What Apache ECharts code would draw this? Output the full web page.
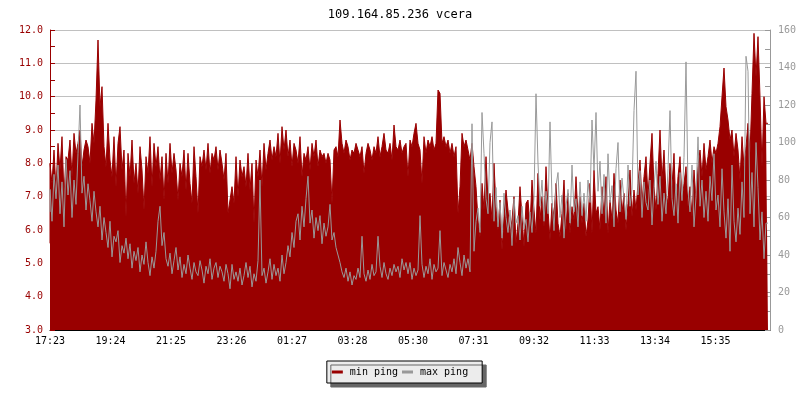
<!DOCTYPE html>
<html>
<head>
<meta charset="utf-8">
<title>109.164.85.236 vcera</title>
<script src="https://cdn.jsdelivr.net/npm/echarts@6/dist/echarts.min.js"></script>
<style>
    html, body { margin: 0; padding: 0; background: #fff; }
    #chart { width: 800px; height: 400px; }
</style>
</head>
<body>
<div id="chart"></div>
<script>
// time labels on the x axis (one every 121 minutes)
const xLabels = ['17:23','19:24','21:25','23:26','01:27','03:28','05:30','07:31','09:32','11:33','13:34','15:35']
const stepMinutes = 4

// min ping (left axis), one value per 4 minutes
const minPing = [
    5.6, 8.0, 7.4, 8.4, 7.2,  8.6, 7.8, 8.8, 7.0, 8.2,  8.1, 8.7, 7.6, 8.9, 8.3,  8.6, 9.0, 7.9, 8.4, 8.7,
    8.5, 8.0, 9.2, 8.6, 9.9,  11.7, 9.7, 10.3, 8.5, 7.9,  9.2, 8.1, 7.6, 8.8, 7.3,  8.6, 9.1, 7.8, 8.4, 6.4,
    8.3, 7.6, 8.7, 7.4, 8.0,  7.1, 8.5, 7.8, 6.6, 8.2,  7.7, 8.8, 7.3, 8.6, 7.9,  8.5, 7.5, 8.2, 6.9, 8.3,
    7.4, 8.6, 7.7, 8.3, 7.8,  6.9, 8.0, 7.6, 8.4, 7.2,  8.3, 7.4, 6.8, 8.5, 7.6,  6.5, 8.2, 7.9, 8.4, 7.8,
    8.6, 7.7, 8.3, 8.1, 8.5,  7.8, 8.4, 8.0, 7.5, 8.3,
    6.5, 6.9, 7.3, 6.8, 8.2,  7.0, 8.1, 7.6, 7.9, 7.3,  8.3, 7.2, 8.0, 6.2, 8.1,  7.6, 8.4, 7.3, 8.6, 7.8,
    8.3, 8.7, 8.1, 8.5, 8.2,  8.9, 8.0, 9.1, 8.4, 9.0,  8.2, 8.7, 7.9, 8.6, 8.4,  8.0, 8.8, 7.6, 8.3, 8.1,
    8.5, 7.8, 8.6, 8.2, 8.7,  7.9, 8.4, 8.2, 8.3, 8.0,  8.3, 8.1, 6.8, 8.4, 8.5,  8.2, 9.3, 8.6, 8.3, 8.7,
    8.5, 8.1, 8.4, 8.3, 8.6,  8.4, 8.2, 8.5, 7.7, 8.3,  8.6, 8.4, 8.1, 8.5, 8.3,  8.8, 8.2, 8.5, 8.9, 8.4,
    8.3, 8.6, 8.1, 9.15, 8.5,  8.4, 8.7, 8.3, 8.5, 8.6,
    7.6, 8.7, 8.5, 8.9, 9.2,  8.6, 8.4, 7.4, 8.8, 8.3,  8.7, 8.5, 8.8, 8.4, 8.6,  10.2, 10.1, 8.6, 8.8, 8.5,
    8.7, 8.3, 8.6, 8.2, 8.5,  6.5, 7.3, 8.9, 8.5, 8.7,  8.4, 8.1, 8.6, 7.9, 7.3,  6.3, 5.8, 7.4, 6.6, 8.2,
    6.9, 7.1, 6.3, 8.0, 6.7,  6.0, 6.9, 5.4, 6.4, 7.2,  6.6, 5.9, 6.3, 7.0, 5.6,  6.2, 7.3, 6.4, 5.5, 6.8,
    6.9, 6.1, 7.5, 6.6, 5.9,  7.7, 6.3, 7.0, 6.1, 7.9,  6.6, 5.7, 6.8, 6.4, 7.4,  6.2, 5.8, 6.5, 7.5, 6.0,
    7.1, 5.9, 6.7, 6.3, 7.6,  6.4, 7.0, 6.2, 6.8, 5.8,
    6.3, 7.4, 5.9, 7.8, 6.5,  6.7, 6.0, 7.3, 6.4, 7.6,  5.9, 6.9, 6.3, 7.7, 6.6,  6.2, 7.5, 6.5, 7.1, 6.0,
    6.8, 7.8, 6.4, 7.2, 6.6,  7.4, 8.1, 6.8, 7.6, 8.2,  7.0, 8.0, 8.9, 7.3, 6.6,  7.7, 9.0, 7.5, 8.4, 7.1,
    6.8, 8.0, 7.3, 8.3, 6.5,  7.6, 8.2, 6.9, 7.4, 7.9,  6.7, 7.3, 6.4, 7.8, 6.9,  7.9, 8.4, 7.6, 8.6, 7.8,
    8.2, 8.7, 8.0, 8.5, 8.3,  8.6, 9.1, 10.0, 10.86, 9.7,  9.3, 8.7, 9.0, 8.2, 8.9,  8.4, 7.5, 8.8, 7.9, 8.5,
    9.2, 8.3, 10.1, 11.9, 10.6,  11.8, 10.0, 7.9, 10.0, 9.2
]

// max ping (right axis), one value per 4 minutes
const maxPing = [
    63, 75, 58, 83, 70,  88, 62, 79, 55, 91,  72, 85, 60, 80, 67,  94, 120, 73, 82, 64,
    78, 69, 58, 74, 63,  55, 66, 48, 60, 52,  44, 58, 39, 50, 47,  53, 36, 45, 41, 49,
    38, 46, 33, 42, 37,  44, 31, 40, 35, 47,  36, 29, 39, 33, 42,  58, 66, 45, 52, 38,
    34, 41, 30, 37, 44,  32, 39, 28, 35, 30,  40, 33, 27, 36, 31,  29, 37, 32, 25, 34,
    30, 38, 27, 33, 36,  28, 34, 31, 26, 35,
    30, 22, 35, 27, 31,  26, 33, 24, 29, 36,  28, 34, 23, 30, 26,  37, 80, 29, 33, 25,
    31, 38, 27, 35, 29,  33, 26, 40, 30, 36,  45, 39, 52, 44, 58,  62, 48, 66, 55, 70,
    82, 57, 64, 49, 60,  53, 61, 46, 57, 50,  55, 67, 48, 52, 44,  40, 36, 31, 28, 33,
    26, 31, 24, 29, 27,  33, 28, 50, 30, 26,  32, 27, 35, 29, 31,  50, 34, 28, 36, 30,
    27, 33, 29, 35, 31,  34, 28, 38, 32, 36,
    30, 36, 27, 33, 29,  32, 61, 35, 28, 34,  30, 38, 27, 35, 31,  33, 53, 29, 36, 32,
    28, 35, 31, 38, 30,  44, 36, 29, 40, 33,  38, 31, 110, 42, 58,  65, 52, 116, 94, 70,
    62, 100, 111, 58, 76,  55, 68, 49, 73, 60,  52, 64, 45, 70, 57,  61, 48, 66, 54, 59,
    47, 63, 52, 71, 126,  89, 66, 80, 58, 74,  62, 111, 70, 53, 77,  84, 60, 72, 49, 66,
    75, 57, 88, 63, 70,  55, 79, 61, 73, 58,
    80, 68, 112, 85, 116,  74, 90, 62, 83, 57,  94, 68, 77, 55, 86,  100, 63, 81, 70, 59,
    88, 66, 75, 117, 138,  72, 85, 60, 79, 68,  64, 80, 56, 76, 90,  67, 82, 58, 73, 62,
    86, 117, 70, 61, 78,  57, 84, 69, 92, 143,  75, 63, 88, 55, 71,  103, 66, 80, 60, 74,
    58, 82, 69, 94, 64,  72, 55, 86, 63, 49,  70, 42, 88, 58, 47,  65, 51, 79, 60, 146,
    138, 62, 84, 55, 100,  76, 48, 63, 38, 57
]

const font = '"DejaVu Sans Mono", monospace'

const myChart = echarts.init(document.getElementById('chart'))
myChart.setOption({
    animation: false,
    title: {
        text: '109.164.85.236 vcera',
        left: 'center',
        top: 4,
        textStyle: { fontFamily: font, fontSize: 12, fontWeight: 'normal', color: '#000' }
    },
    legend: {
        bottom: 17,
        left: 'center',
        icon: 'rect',
        itemWidth: 11,
        itemHeight: 3,
        itemGap: 4,
        padding: [6, 14, 6, 5],
        backgroundColor: '#ececec',
        borderColor: '#000',
        borderWidth: 1,
        shadowColor: '#666',
        shadowBlur: 0,
        shadowOffsetX: 4,
        shadowOffsetY: 4,
        textStyle: { fontFamily: font, fontSize: 10, color: '#000', padding: [0, 0, 0, 2] },
        data: ['min ping', 'max ping']
    },
    grid: { left: 50, right: 30, top: 30, bottom: 70 },
    xAxis: {
        type: 'value',
        min: 0,
        max: 1440,
        interval: 121,
        axisLine: { show: true, onZero: false, lineStyle: { color: '#000' } },
        axisTick: { show: true, inside: true, length: 5, lineStyle: { color: '#000' } },
        axisLabel: {
            showMaxLabel: false,
            margin: 6,
            fontFamily: font,
            fontSize: 10,
            color: '#000',
            formatter: function (v) {
                const k = Math.round(v / 121)
                return (v % 121 === 0 && xLabels[k]) ? xLabels[k] : ''
            }
        },
        splitLine: { show: false }
    },
    yAxis: [
        {
            type: 'value',
            min: 3,
            max: 12,
            interval: 1,
            axisLine: { show: true, lineStyle: { color: '#990000' } },
            axisTick: { show: true, inside: true, length: 5, lineStyle: { color: '#990000' } },
            minorTick: { show: true, splitNumber: 2, length: 5, lineStyle: { color: '#990000' } },
            axisLabel: {
                margin: 7,
                fontFamily: font,
                fontSize: 10,
                color: '#990000',
                formatter: v => v.toFixed(1)
            },
            splitLine: { show: true, lineStyle: { color: '#c0c0c0', width: 1 } }
        },
        {
            type: 'value',
            min: 0,
            max: 160,
            interval: 20,
            position: 'right',
            axisLine: { show: true, lineStyle: { color: '#999' } },
            axisTick: { show: true, inside: true, length: 5, lineStyle: { color: '#999' } },
            minorTick: { show: true, splitNumber: 2, length: 5, lineStyle: { color: '#999' } },
            axisLabel: { margin: 8, fontFamily: font, fontSize: 10, color: '#999' },
            splitLine: { show: false }
        }
    ],
    series: [
        {
            name: 'min ping',
            type: 'line',
            yAxisIndex: 0,
            step: 'start',
            showSymbol: false,
            sampling: false,
            color: '#990000',
            lineStyle: { width: 1, color: '#990000' },
            areaStyle: { color: '#990000', opacity: 1, origin: 'start' },
            data: minPing.map((v, i) => [i * stepMinutes, v])
        },
        {
            name: 'max ping',
            type: 'line',
            yAxisIndex: 1,
            step: 'start',
            showSymbol: false,
            sampling: false,
            color: '#999999',
            lineStyle: { width: 1, color: '#999999' },
            z: 3,
            data: maxPing.map((v, i) => [i * stepMinutes, v])
        }
    ]
})
</script>
</body>
</html>
